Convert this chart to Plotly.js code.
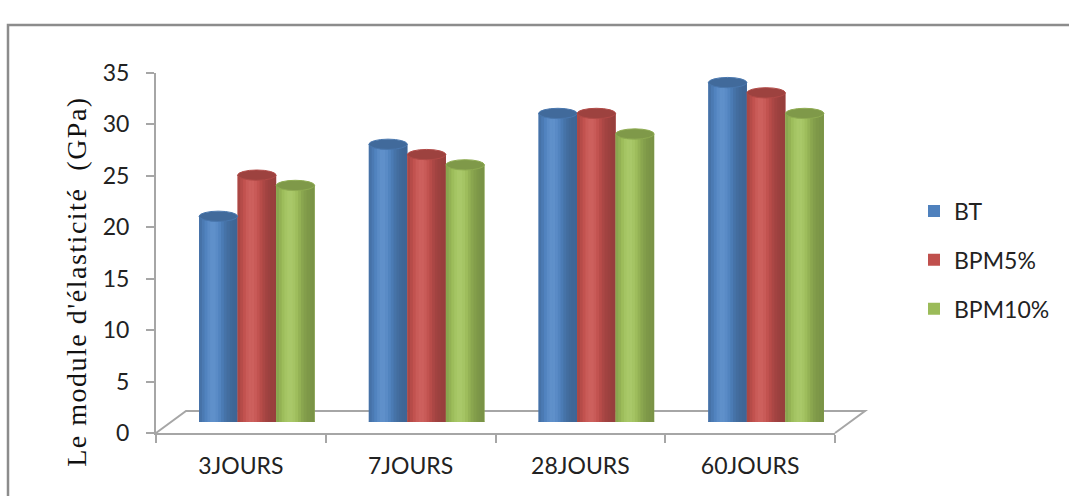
<!DOCTYPE html>
<html>
<head>
<meta charset="utf-8">
<script src="https://cdn.plot.ly/plotly-3.0.1.min.js"></script>
<style>
  html, body { margin: 0; padding: 0; background: #ffffff; }
  #chart { width: 1069px; height: 496px; }
  #chart .annotation-text { letter-spacing: 1.5px; }
</style>
</head>
<body>
<div id="chart"></div>
<script>
// Elastic modulus (GPa) by curing age and mix
const categories = ['3JOURS', '7JOURS', '28JOURS', '60JOURS'];
const seriesNames = ['BT', 'BPM5%', 'BPM10%'];
const bt = [20, 27, 30, 33];
const bpm5 = [24, 26, 30, 32];
const bpm10 = [23, 25, 28, 30];
const yTicks = [0, 5, 10, 15, 20, 25, 30, 35];

const seriesValues = [bt, bpm5, bpm10];
const baseColors = ['#4f81bd', '#c0504d', '#9bbb59'];

const W = 1069, H = 496;
// front frame of the plot (px)
const frontLeft = 156, frontRight = 835, frontBottom = 433, frontTop = 73;
// depth of the floor and the mid-depth shift of the cylinders (px)
const depthDx = 30, depthDy = 22;
const midDx = 16, midDy = 11;

const px = v => v / W;
const py = v => 1 - v / H;

const barW = 0.227;      // width of one cylinder in category units
const strips = 14;       // vertical shading strips per cylinder
const capHalf = 0.5;     // half height of the elliptical caps (value units)

function shade(hex, f) {
  const n = parseInt(hex.slice(1), 16);
  let r = (n >> 16) & 255, g = (n >> 8) & 255, b = n & 255;
  const adj = c => {
    const v = f >= 1 ? c + (255 - c) * (f - 1) * 0.6 + c * (f - 1) * 0.4 : c * f;
    return Math.max(0, Math.min(255, Math.round(v)));
  };
  return 'rgb(' + adj(r) + ',' + adj(g) + ',' + adj(b) + ')';
}
// brightness across a cylinder, p = 0 (left edge) .. 1 (right edge)
function lightAt(p) {
  return 0.78 + 0.34 * Math.exp(-Math.pow((p - 0.36) / 0.3, 2));
}

const traces = [];
// invisible anchor so the front category axis carries its labels
traces.push({
  type: 'scatter', mode: 'markers', x: categories, y: categories.map(() => 0),
  xaxis: 'x', yaxis: 'y', marker: { opacity: 0 }, hoverinfo: 'skip', showlegend: false
});

const shapes = [];

// floor of the 3-D box
const floorPath =
  'M' + px(frontLeft) + ',' + py(frontBottom) +
  ' L' + px(frontLeft + depthDx) + ',' + py(frontBottom - depthDy) +
  ' L' + px(frontRight + depthDx) + ',' + py(frontBottom - depthDy) +
  ' L' + px(frontRight) + ',' + py(frontBottom);
shapes.push({
  type: 'path', xref: 'paper', yref: 'paper', layer: 'below', path: floorPath,
  line: { color: '#a6a6a6', width: 2 }
});

seriesValues.forEach((vals, s) => {
  const base = baseColors[s];
  const left = -1.5 * barW + s * barW;
  // body (also the legend entry)
  traces.push({
    type: 'bar', name: seriesNames[s], legendgroup: seriesNames[s],
    x: categories, y: vals, xaxis: 'x2', yaxis: 'y2',
    offset: left, width: barW,
    marker: { color: base, line: { width: 0 } },
    hoverinfo: 'x+y+name'
  });
  // shading strips
  for (let k = 0; k < strips; k++) {
    const p = (k + 0.5) / strips;
    const sw = barW / strips;
    traces.push({
      type: 'bar', legendgroup: seriesNames[s], showlegend: false,
      x: categories, y: vals, xaxis: 'x2', yaxis: 'y2',
      offset: left + k * sw, width: k === strips - 1 ? sw : sw * 1.15,
      marker: { color: shade(base, lightAt(p)), line: { width: 0 } },
      hoverinfo: 'skip'
    });
  }
  vals.forEach((v, i) => {
    // rounded bottom
    shapes.push({
      type: 'circle', xref: 'x2', yref: 'y2', layer: 'below',
      x0: i + left, x1: i + left + barW, y0: -capHalf, y1: capHalf,
      fillcolor: shade(base, 0.84), line: { width: 0 }
    });
    // top cap
    shapes.push({
      type: 'circle', xref: 'x2', yref: 'y2', layer: 'above',
      x0: i + left, x1: i + left + barW, y0: v - capHalf, y1: v + capHalf,
      fillcolor: shade(base, 0.82), line: { color: shade(base, 0.92), width: 1 }
    });
  });
});

// outer frame
shapes.push({
  type: 'rect', xref: 'paper', yref: 'paper', layer: 'above',
  x0: px(8), x1: px(W + 20), y0: py(H + 20), y1: py(25),
  line: { color: '#8c8c8c', width: 2.5 }, fillcolor: 'rgba(0,0,0,0)'
});

const tickFont = { family: 'Lato, sans-serif', size: 23, color: '#222222' };

const layout = {
  width: W, height: H,
  margin: { l: 0, r: 0, t: 0, b: 0, pad: 0 },
  paper_bgcolor: '#ffffff',
  plot_bgcolor: 'rgba(0,0,0,0)',
  barmode: 'overlay',
  showlegend: true,
  legend: {
    x: px(914), xanchor: 'left', y: py(260), yanchor: 'middle',
    traceorder: 'grouped', tracegroupgap: 16,
    font: tickFont, bgcolor: 'rgba(0,0,0,0)'
  },
  xaxis: {
    type: 'category', categoryorder: 'array', categoryarray: categories,
    domain: [px(frontLeft), px(frontRight)], anchor: 'y',
    range: [-0.5, categories.length - 0.5],
    showline: true, linecolor: '#a6a6a6', linewidth: 2,
    ticks: 'outside', tickson: 'boundaries', ticklen: 8, tickwidth: 2, tickcolor: '#a6a6a6',
    ticklabelstandoff: 11,
    showgrid: false, zeroline: false, tickfont: tickFont, fixedrange: true
  },
  yaxis: {
    domain: [py(frontBottom), py(frontTop)], anchor: 'x',
    range: [0, 35], tickmode: 'array', tickvals: yTicks,
    showline: true, linecolor: '#a6a6a6', linewidth: 2,
    ticks: 'outside', ticklen: 8, tickwidth: 2, tickcolor: '#a6a6a6',
    ticklabelstandoff: 12,
    showgrid: false, zeroline: false, tickfont: tickFont, fixedrange: true
  },
  xaxis2: {
    type: 'category', categoryorder: 'array', categoryarray: categories,
    domain: [px(frontLeft + midDx), px(frontRight + midDx)], anchor: 'y2',
    range: [-0.5, categories.length - 0.5], visible: false, fixedrange: true
  },
  yaxis2: {
    domain: [py(frontBottom - midDy), py(frontTop - midDy)], anchor: 'x2',
    range: [0, 35], visible: false, fixedrange: true
  },
  shapes: shapes,
  annotations: [{
    text: "Le module d'élasticité \u00a0(GPa)",
    xref: 'paper', yref: 'paper', x: px(76), y: py(282),
    xanchor: 'center', yanchor: 'middle', textangle: -90, showarrow: false,
    font: { family: '"Liberation Serif", "Times New Roman", serif', size: 28, color: '#111111' }
  }]
};

Plotly.newPlot('chart', traces, layout, { displayModeBar: false, staticPlot: true });
</script>
</body>
</html>
